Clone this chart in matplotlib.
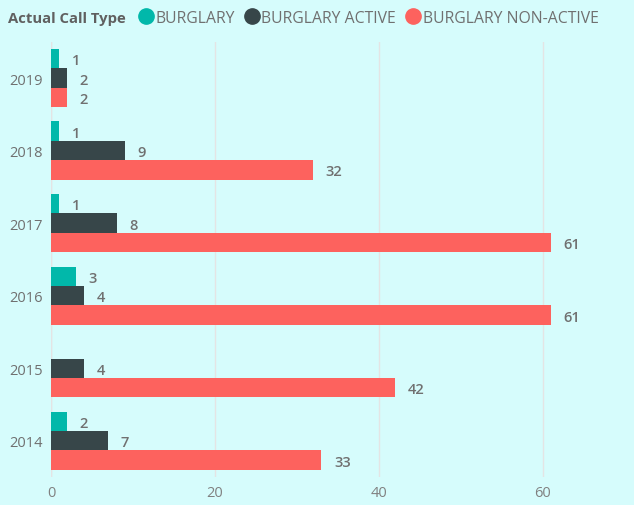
import matplotlib
matplotlib.use("Agg")
import matplotlib.pyplot as plt
import numpy as np
from matplotlib.lines import Line2D

# dados (de cima para baixo)
anos = ['2019', '2018', '2017', '2016', '2015', '2014']
burglary = [1, 1, 1, 3, np.nan, 2]
burglary_active = [2, 9, 8, 4, 4, 7]
burglary_nonactive = [2, 32, 61, 61, 42, 33]

series = ['BURGLARY', 'BURGLARY ACTIVE', 'BURGLARY NON-ACTIVE']
cores = ['#01b8aa', '#374649', '#fd625e']
fundo = '#d6fcfc'

plt.rcParams['font.family'] = ['Open Sans', 'DejaVu Sans']

fig = plt.figure(figsize=(6.34, 5.06), dpi=100)
fig.patch.set_facecolor(fundo)
ax = fig.add_axes([0.0804, 0.0553, 0.905, 0.86])
ax.set_facecolor(fundo)

y = np.arange(len(anos))
h = 0.268
for k, vals in enumerate([burglary, burglary_active, burglary_nonactive]):
    pos = y + (k - 1) * h
    ax.barh(pos, vals, height=h, color=cores[k], zorder=3)
    for p, v in zip(pos, vals):
        if not np.isnan(v):
            ax.annotate(str(int(v)), (v, p), xytext=(9, -1), textcoords='offset points',
                        ha='left', va='center', fontsize=10.5, color='#707070',
                        fontweight='semibold')

ax.set_ylim(-0.5, len(anos) - 0.5)
ax.invert_yaxis()
ax.set_xlim(0, 70)
ax.set_xticks([0, 20, 40, 60])
ax.set_yticks(y)
ax.set_yticklabels(anos)
ax.tick_params(axis='x', colors='#808080', labelsize=10.5, length=0, pad=6)
ax.tick_params(axis='y', colors='#707070', labelsize=10.5, length=0, pad=6)
ax.grid(axis='x', color='#e4e4e4', linewidth=1, zorder=0)
for s in ax.spines.values():
    s.set_visible(False)
ax.axvline(0, color='#e4e4e4', linewidth=1, zorder=1)

# legenda
fig.text(0.013, 0.963, 'Actual Call Type', fontsize=10.7, fontweight='bold',
         color='#606060', va='center', ha='left')
handles = [Line2D([], [], marker='o', linestyle='', markersize=11,
                  markerfacecolor=c, markeredgecolor=c) for c in cores]
leg = fig.legend(handles, series, loc='center left', bbox_to_anchor=(0.215, 0.963),
                 ncol=3, frameon=False, fontsize=11.3, handletextpad=0.0,
                 columnspacing=0.5, handlelength=1.2, borderaxespad=0, borderpad=0)
for t in leg.get_texts():
    t.set_color('#707070')

fig.savefig('out.png', dpi=100, facecolor=fundo)
